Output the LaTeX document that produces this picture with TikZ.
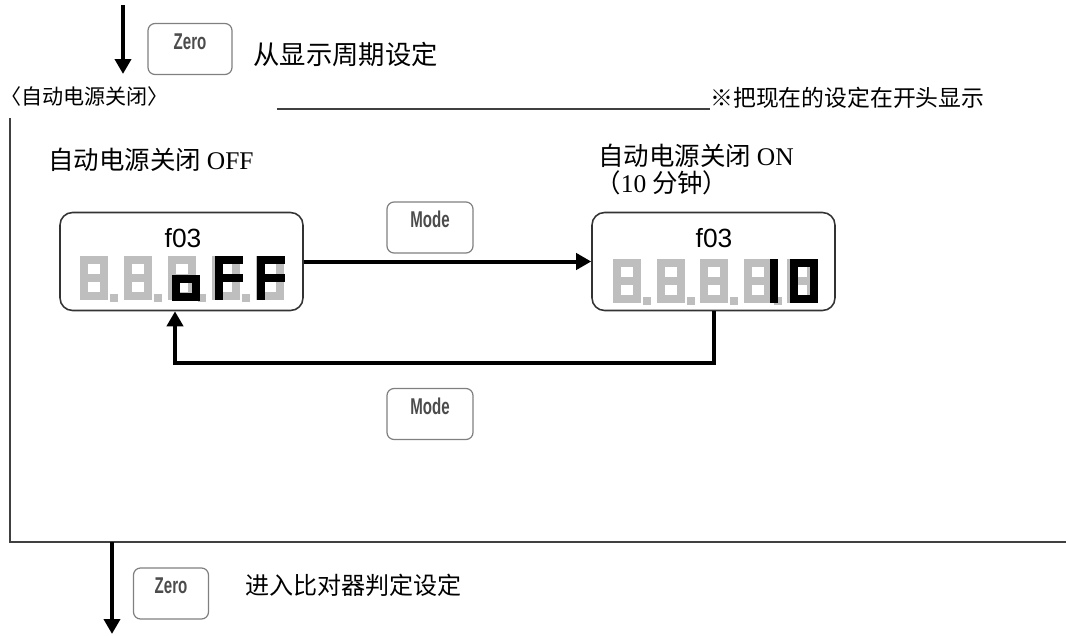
\documentclass[tikz,border=0pt]{standalone}
\usepackage{fontspec}
\usepackage{graphicx}
\setmainfont{Liberation Serif}
\setsansfont{Liberation Sans}
\newfontfamily\cjk{Noto Sans CJK SC}
\usetikzlibrary{arrows.meta}

\definecolor{digitgray}{HTML}{BEBEBE}
\def\sega{(4,4) -- (24,4)}
\def\segb{(24,4) -- (24,22)}
\def\segc{(24,22) -- (24,40)}
\def\segd{(4,40) -- (24,40)}
\def\sege{(4,22) -- (4,40)}
\def\segf{(4,4) -- (4,22)}
\def\segg{(4,22) -- (24,22)}
\newcommand\segdigit[4]{\foreach \s in {#4} {\draw[segline, draw=#3, shift={(#1,#2)}] \csname seg\s\endcsname;}}
\newcommand\keycap[1]{\scalebox{0.66}[1]{#1}}

\begin{document}
\begin{tikzpicture}[x=0.02cm, y=-0.02cm]
        \tikzstyle{segline}=[line width=0.16cm, line cap=rect]
        \tikzstyle{disp}=[draw=black!80, line width=0.9pt, rounded corners=0.25cm, minimum width=4.86cm, minimum height=1.96cm]
        \tikzstyle{dispcode}=[inner sep=0pt, font=\sffamily\fontsize{15}{15}\selectfont]
        \tikzstyle{btn}=[draw=black!50, line width=0.7pt, rounded corners=0.14cm, minimum width=1.72cm, minimum height=1.02cm, inner sep=0pt, text height=0.3cm, text depth=0.3cm, text=black!70, font=\sffamily\bfseries\fontsize{13}{13}\selectfont]
        \tikzstyle{lbl}=[anchor=west, inner sep=0pt]
        \tikzstyle{frame}=[draw=black!75, line width=1.1pt]
        \tikzstyle{flow}=[line width=0.08cm, -{Triangle[length=0.3cm, width=0.32cm]}]
        \useasboundingbox (0,0) rectangle (1066,636);

        \node [btn, minimum width=1.68cm] (zeroin) at (190,49) {\keycap{Zero}};
        \node [lbl, font=\cjk\fontsize{15}{18}\selectfont] (fromtxt) at (253,54) {从显示周期设定};
        \node [lbl, font=\cjk\fontsize{12}{14}\selectfont] (section) at (0,96) {〈自动电源关闭〉};
        \node [lbl, font=\cjk\fontsize{13}{15}\selectfont] (note) at (710,98) {※把现在的设定在开头显示};
        \node [lbl, font=\cjk\fontsize{14.5}{17}\selectfont] (offtxt) at (48,160) {自动电源关闭 {\rmfamily OFF}};
        \node [lbl, font=\cjk\fontsize{14.5}{17}\selectfont] (ontxt) at (598,156) {自动电源关闭 {\rmfamily ON}};
        \node [lbl, font=\cjk\fontsize{14.5}{17}\selectfont] (ontime) at (595,183) {（{\rmfamily 10} 分钟）};
        \node [lbl, font=\cjk\fontsize{13.7}{16}\selectfont] (nexttxt) at (245,585) {进入比对器判定设定};

        \draw[frame] (277,109) -- (710,109);
        \draw[frame] (10,118) |- (1066,542);

        \foreach \i in {0,...,4} {\segdigit{80+44*\i}{256}{digitgray}{a,b,c,d,e,f,g}}
        \foreach \i in {0,...,3} {\fill[digitgray] (80+44*\i+30,294) rectangle ++(8,8);}
        \segdigit{172}{257}{black}{c,d,e,g}
        \segdigit{215}{256}{black}{a,e,f,g}
        \segdigit{257}{256}{black}{a,e,f,g}
        \foreach \i in {0,...,4} {\segdigit{613+43.5*\i}{259}{digitgray}{a,b,c,d,e,f,g}}
        \foreach \i in {0,...,3} {\fill[digitgray] (613+43.5*\i+30,297) rectangle ++(8,8);}
        \segdigit{750}{259}{black}{b,c}
        \segdigit{790}{259}{black}{a,b,c,d,e,f}

        \node [disp] (offdisp) at (181.5,261.5) {};
        \node [disp] (ondisp) at (713.5,261.5) {};
        \node [dispcode] (offcode) at (183,238) {f03};
        \node [dispcode] (oncode) at (714,238) {f03};

        \node [btn] (modefwd) at (430,227.5) {\keycap{Mode}};
        \node [btn] (modeback) at (430,414) {\keycap{Mode}};
        \node [btn, minimum width=1.5cm] (zeroout) at (171,593.5) {\keycap{Zero}};

        \coordinate (inTop) at (123,5);
        \coordinate (inEnd) at (123,74);
        \coordinate (backturn) at (175,363);
        \coordinate (outTop) at (112,542);
        \coordinate (outEnd) at (112,634);
        \draw[flow] (inTop) -- (inEnd);
        \draw[flow] (offdisp) -- (ondisp);
        \draw[flow] (ondisp.south) |- (backturn) -- (backturn |- offdisp.south);
        \draw[flow] (outTop) -- (outEnd);
    \end{tikzpicture}
\end{document}
